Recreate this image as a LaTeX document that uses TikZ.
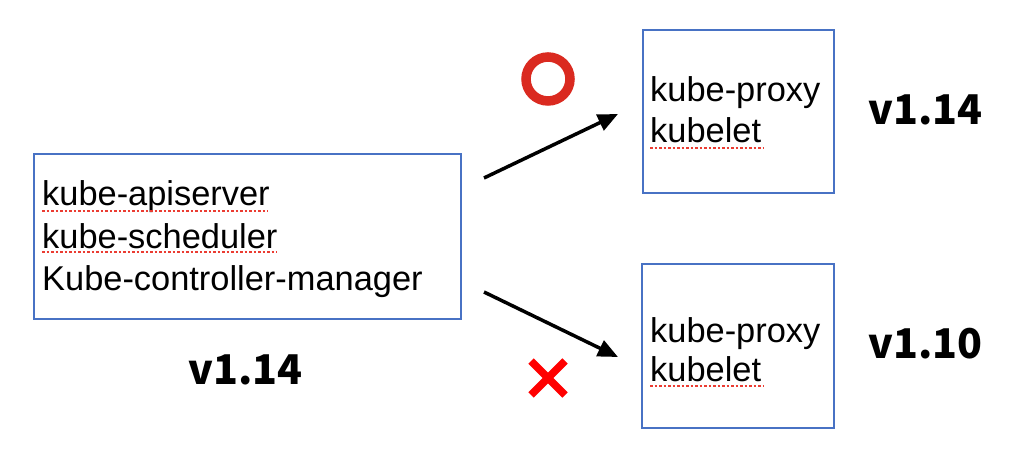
\documentclass[tikz,border=0pt]{standalone}
\usepackage{fontspec}
\setmainfont{Liberation Sans}
\newfontfamily\verfont{Noto Sans CJK JP}
\usetikzlibrary{arrows.meta}
\definecolor{boxblue}{RGB}{72,114,196}
\definecolor{okred}{RGB}{218,42,32}
\definecolor{ngred}{RGB}{255,0,0}
\definecolor{spellred}{RGB}{235,60,50}
\tikzset{
  compbox/.style={draw=boxblue, line width=1.6pt, rectangle, inner sep=0pt, anchor=north west},
  comptext/.style={font=\fontsize{34.4}{41}\selectfont, inner sep=0pt, anchor=base west, text=black},
  vertext/.style={font=\verfont\bfseries\fontsize{41}{45}\selectfont, inner sep=0pt, anchor=base west},
  spell/.style={draw=spellred, line width=2pt, dash pattern=on 2.5pt off 2pt},
  conn/.style={line width=3.5pt, -{Triangle[length=20pt,width=17pt]}},
}
\begin{document}
\begin{tikzpicture}[x=1pt,y=-1pt]
\useasboundingbox (0,0) rectangle (1024,454);
% boxes
\node[compbox, minimum width=427pt, minimum height=165pt] (cp) at (33,153) {};
\node[compbox, minimum width=191pt, minimum height=163pt] (w1) at (642,29) {};
\node[compbox, minimum width=192pt, minimum height=164pt] (w2) at (641,263) {};
% control plane text
\node[comptext] (t1) at (42,206) {kube-apiserver};
\node[comptext] (t2) at (42,248) {kube-scheduler};
\node[comptext] (t3) at (42,290) {Kube-controller-manager};
\draw[spell] (42,211) -- (268,211);
\draw[spell] (42,252) -- (277,252);
% worker 1
\node[comptext] (p1) at (650,102) {kube-proxy};
\node[comptext] (k1) at (650,143) {kubelet};
\draw[spell] (650,148) -- (763,148);
% worker 2
\node[comptext] (p2) at (650,342) {kube-proxy};
\node[comptext] (k2) at (650,381) {kubelet};
\draw[spell] (650,385.5) -- (763,385.5);
% versions
\node[vertext] (v0) at (188,384) {v1.14};
\node[vertext] (v1) at (868,125) {v1.14};
\node[vertext] (v2) at (868,358) {v1.10};
% arrows
\coordinate (a1s) at (484,178);
\coordinate (a1e) at (618,114);
\coordinate (a2s) at (484,292);
\coordinate (a2e) at (618,357);
\draw[conn] (a1s) -- (a1e);
\draw[conn] (a2s) -- (a2e);
% marks
\node[circle, draw=okred, line width=9.5pt, minimum size=44pt, inner sep=0pt] (ok) at (548,79) {};
\coordinate (ng) at (548,378);
\draw[ngred, line width=7.5pt] ([shift={(-17,-17)}]ng) -- ([shift={(17,17)}]ng)
  ([shift={(-17,17)}]ng) -- ([shift={(17,-17)}]ng);
\end{tikzpicture}
\end{document}
